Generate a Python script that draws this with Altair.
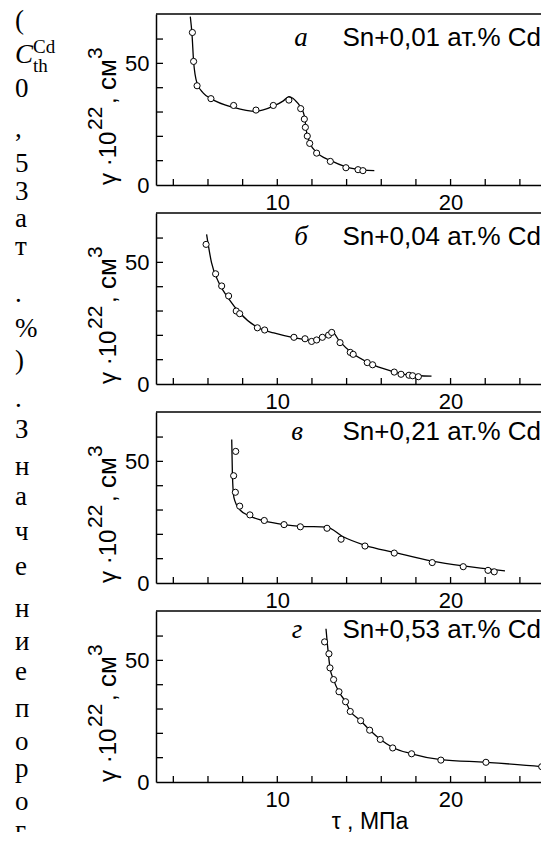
import altair as alt
import pandas as pd

# ---------------- data ----------------
X_DOMAIN = [3, 25.68]
Y_DOMAIN = [0, 70.3]

p1_pts_x = [5.10, 5.17, 5.37, 6.17, 7.48, 8.77, 9.77, 10.67, 11.35, 11.56, 11.62, 11.73, 11.87, 12.27, 13.06, 13.96, 14.66, 14.94]
p1_pts_y = [62.7, 50.8, 40.8, 35.5, 32.7, 30.8, 32.7, 34.9, 31.4, 27.1, 23.7, 20.1, 17.1, 13.1, 9.7, 7.1, 6.3, 5.9]
p1_curve_x = [4.98, 5.08, 5.17, 5.37, 5.73, 6.17, 7.48, 8.77, 9.77, 10.35, 10.67, 11.02, 11.35, 11.56, 11.7, 11.9, 12.27, 13.06, 13.96, 14.94, 15.6]
p1_curve_y = [69.2, 61.8, 50.8, 41.8, 37.8, 35.5, 31.9, 30.3, 32.4, 34.6, 36.3, 34.9, 32.0, 28.4, 21.4, 17.0, 13.4, 10.1, 7.5, 6.2, 5.9]

p2_pts_x = [5.89, 6.44, 6.79, 7.19, 7.63, 7.83, 8.85, 9.27, 10.96, 11.6, 11.98, 12.27, 12.6, 12.96, 13.14, 13.62, 14.21, 14.38, 15.19, 15.5, 16.75, 17.14, 17.6, 17.81, 18.14]
p2_pts_y = [57.4, 45.3, 40.3, 36.2, 30.0, 28.9, 23.1, 22.2, 19.2, 18.6, 17.5, 18.1, 19.2, 20.1, 21.2, 17.0, 13.0, 12.2, 8.8, 7.9, 4.9, 4.0, 3.6, 3.4, 3.0]
p2_curve_x = [5.92, 6.2, 6.6, 7.2, 7.8, 8.8, 9.8, 11.0, 12.0, 12.7, 13.15, 13.6, 14.3, 15.3, 16.5, 17.5, 18.9]
p2_curve_y = [61.5, 50, 42, 35, 29.5, 23.5, 21, 19, 18, 19.5, 21.5, 17.5, 12.8, 8.6, 5.5, 3.8, 3.2]

p3_pts_x = [7.6, 7.48, 7.58, 7.83, 8.42, 9.25, 10.39, 11.33, 12.87, 13.68, 15.06, 16.75, 18.94, 20.73, 22.16, 22.52]
p3_pts_y = [54.1, 44.1, 37.3, 31.6, 28.0, 25.7, 24.0, 23.1, 22.5, 18.0, 15.2, 12.3, 8.4, 6.7, 5.2, 4.6]
p3_curve_x = [7.37, 7.41, 7.5, 7.85, 8.42, 9.25, 10.37, 11.33, 12.85, 13.8, 15.06, 16.75, 18.94, 20.73, 23.14]
p3_curve_y = [59, 44.5, 35, 30, 27.5, 25.5, 24, 23.3, 23, 19, 15.5, 12.6, 9, 7, 5.0]

p4_pts_x = [12.73, 12.98, 13.04, 13.25, 13.56, 13.94, 14.21, 14.81, 15.33, 15.94, 16.66, 17.75, 19.44, 22.04, 25.26]
p4_pts_y = [57.6, 52.7, 46.9, 42.1, 37.1, 33.0, 29.0, 25.2, 21.3, 17.5, 14.0, 11.6, 9.0, 8.1, 6.3]
p4_curve_x = [12.81, 12.9, 13.04, 13.25, 13.56, 13.94, 14.21, 14.81, 15.33, 15.94, 16.66, 17.75, 19.44, 22.04, 25.26, 25.68]
p4_curve_y = [63, 56, 47, 42, 37, 33, 29.2, 25.2, 21.4, 17.6, 14.2, 11.6, 9.2, 8.1, 6.3, 6.0]

panel_letters = ["а", "б", "в", "г"]
panel_alloys = ["Sn+0,01 ат.% Cd", "Sn+0,04 ат.% Cd", "Sn+0,21 ат.% Cd", "Sn+0,53 ат.% Cd"]

x_label_values = [10, 20]
y_label_values = [0, 50]
x_tick_values = [4, 6, 8, 10, 12, 14, 16, 18, 20, 22, 24]
y_tick_values = [10, 20, 30, 40, 50, 60]

x_title = "τ , МПа"

column_chars = ["(", "0", ",", "5", "3", "а", "т", ".", "%", ")", ".",
                "З", "н", "а", "ч", "е", "н", "и", "е", "п", "о", "р", "о", "г"]

# ---------------- layout (pixels) ----------------
W, H = 393, 171
SPACING = 28
LABEL_BASE = [32, 32, 28, 27]
LETTER_X = [145, 145, 141, 141]
COL_X = -141
COL_BASELINES = [15, 83, 123, 158, 186, 213, 241, 288, 323, 355, 393,
                 424, 461, 491, 526, 561, 603, 636, 666, 703, 736, 763, 796, 825]
SANS = "Liberation Sans"
SERIF = "Liberation Serif"

xs = alt.Scale(domain=X_DOMAIN, nice=False, zero=False)
ys = alt.Scale(domain=Y_DOMAIN, nice=False, zero=False)
x_axis = alt.Axis(values=x_label_values, ticks=False, grid=False, title=None,
                  labelFontSize=22, labelFont=SANS, labelColor="black", labelPadding=7,
                  domainColor="black", domainWidth=1.5)
y_axis = alt.Axis(values=y_label_values, ticks=False, grid=False, title=None,
                  labelFontSize=22, labelFont=SANS, labelColor="black", labelPadding=7,
                  domainColor="black", domainWidth=1.5)


def txt(text, x, y, size, font=SANS, align="left", angle=0, style="normal", baseline="alphabetic"):
    kw = dict(text=text, align=align, baseline=baseline, fontSize=size, font=font,
              color="black", fontStyle=style)
    if angle:
        kw["angle"] = angle
    return alt.Chart(pd.DataFrame({"a": [0]})).mark_text(**kw).encode(
        x=alt.value(x), y=alt.value(y))


def anchor(x, y):
    # invisible zero-length rule that pins the page bounds
    return alt.Chart(pd.DataFrame({"a": [0]})).mark_rule(opacity=0, strokeWidth=1).encode(
        x=alt.value(x), x2=alt.value(x), y=alt.value(y), y2=alt.value(y))


def panel(i, px, py, cx, cy, last=False, first=False):
    curve = alt.Chart(pd.DataFrame({"x": cx, "y": cy})).mark_line(
        color="black", strokeWidth=1.3, interpolate="monotone").encode(
        x=alt.X("x:Q", scale=xs, axis=x_axis), y=alt.Y("y:Q", scale=ys, axis=y_axis))
    pts = alt.Chart(pd.DataFrame({"x": px, "y": py})).mark_point(
        shape="circle", filled=True, fill="white", stroke="black", strokeWidth=1,
        size=38, opacity=1).encode(
        x=alt.X("x:Q", scale=xs, axis=x_axis), y=alt.Y("y:Q", scale=ys, axis=y_axis))
    xt = alt.Chart(pd.DataFrame({"x": x_tick_values})).mark_rule(
        color="black", strokeWidth=1.3).encode(
        x=alt.X("x:Q", scale=xs, axis=x_axis), y=alt.value(H), y2=alt.value(H - 6))
    yt = alt.Chart(pd.DataFrame({"y": y_tick_values})).mark_rule(
        color="black", strokeWidth=1.3).encode(
        y=alt.Y("y:Q", scale=ys, axis=y_axis), x=alt.value(0), x2=alt.value(7))
    top = alt.Chart(pd.DataFrame({"a": [0]})).mark_rule(color="black", strokeWidth=1.5).encode(
        x=alt.value(0), x2=alt.value(W), y=alt.value(0))
    layers = [top, xt, yt, curve, pts,
              txt(panel_letters[i], LETTER_X[i], LABEL_BASE[i], 27, font=SERIF, align="center", style="italic"),
              txt(panel_alloys[i], 385, LABEL_BASE[i], 26, align="right"),
              # y-axis title pieces (rotated)
              txt("γ ·10", -40, H, 24, angle=270),
              txt("22", -54, 116, 21, angle=270),
              txt(",", -40, 90, 24, angle=270),
              txt("см", -40, 76, 26, angle=270),
              txt("3", -54, 45, 21, angle=270)]
    if last:
        layers.append(txt(x_title, 214, H + 47, 23, align="center"))
        layers.append(anchor(404, 289))
    if first:
        layers.append(anchor(-155.5, -13.5))
        cdf = pd.DataFrame({"t": column_chars, "py": COL_BASELINES})
        layers.append(alt.Chart(cdf).mark_text(
            align="left", baseline="alphabetic", fontSize=27, font=SERIF, color="black").encode(
            x=alt.value(COL_X), y=alt.Y("py:Q", scale=None), text="t:N"))
        # C_th^Cd
        layers.append(txt("C", COL_X, 49, 27, font=SERIF, style="italic"))
        layers.append(txt("Cd", COL_X + 18, 39, 19, font=SERIF))
        layers.append(txt("th", COL_X + 18, 58, 19, font=SERIF))
    return alt.layer(*layers).properties(width=W, height=H)


charts = [
    panel(0, p1_pts_x, p1_pts_y, p1_curve_x, p1_curve_y, first=True),
    panel(1, p2_pts_x, p2_pts_y, p2_curve_x, p2_curve_y),
    panel(2, p3_pts_x, p3_pts_y, p3_curve_x, p3_curve_y),
    panel(3, p4_pts_x, p4_pts_y, p4_curve_x, p4_curve_y, last=True),
]

chart = alt.vconcat(*charts, spacing=SPACING, bounds="flush").properties(
    padding={"left": -8, "top": -8, "right": -19, "bottom": -68}
).configure_view(stroke=None)

chart.save("out.html", embed_options={"renderer": "svg", "actions": False})
